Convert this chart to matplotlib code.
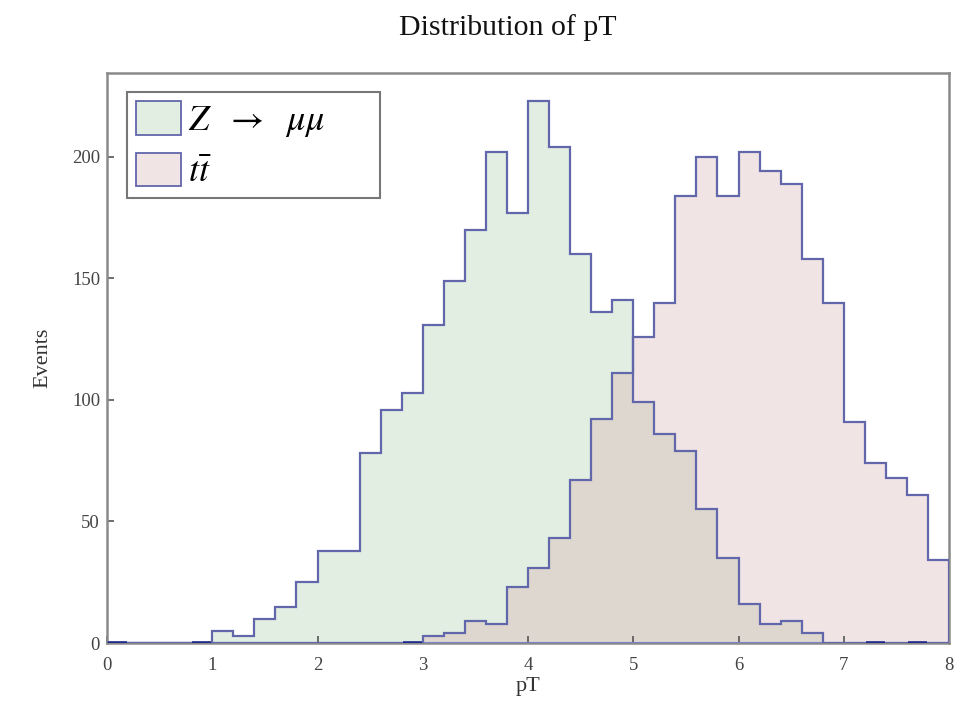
import numpy as np
import matplotlib
matplotlib.use("Agg")
import matplotlib.pyplot as plt
from matplotlib.patches import Patch

edges = np.round(np.arange(0, 8.0001, 0.2), 1)

z_mumu = [0, 0, 0, 0, 0, 5, 3, 10, 15, 25,
          38, 38, 78, 96, 103, 131, 149, 170, 202, 177,
          223, 204, 160, 136, 141, 99, 86, 79, 55, 35,
          16, 8, 9, 4, 0, 0, 0, 0, 0, 0]
ttbar = [0, 0, 0, 0, 0, 0, 0, 0, 0, 0,
         0, 0, 0, 0, 0, 3, 4, 9, 8, 23,
         31, 43, 67, 92, 111, 126, 140, 184, 200, 184,
         202, 194, 189, 158, 140, 91, 74, 68, 61, 34]
# bins with an empty (zero) entry drawn as a dark mark on the baseline
z_empty_bins = [0, 4, 36, 38]
tt_empty_bins = [14]

labels = [r"$Z\ \ \rightarrow\ \ \mu\mu$", r"$t\bar{t}$"]
title = "Distribution of pT"
xlabel = "pT"
ylabel = "Events"
xticks = [0, 1, 2, 3, 4, 5, 6, 7, 8]
yticks = [0, 50, 100, 150, 200]

green = "#e2eee2"
pink = "#f1e4e4"
overlap = "#ddd7cf"
edgec = "#6266aa"
dark = "#1f2a8c"
framec = "#8a8a8a"

plt.rcParams["mathtext.fontset"] = "stix"
serif = ["Liberation Serif", "DejaVu Serif"]

fig = plt.figure(figsize=(9.71, 7.03), dpi=100)
ax = fig.add_axes([107/971, 60/703, 842/971, 570/703])

z = np.array(z_mumu, float)
t = np.array(ttbar, float)
ax.stairs(z, edges, baseline=0, fill=True, color=green, lw=0)
ax.stairs(t, edges, baseline=0, fill=True, color=pink, lw=0)
ax.stairs(np.minimum(z, t), edges, baseline=0, fill=True, color=overlap, lw=0)
ax.hlines(0, edges[0], edges[-1], color="#7d82c8", lw=1.5, zorder=3)
ax.stairs(z, edges, baseline=0, color=edgec, lw=1.6, zorder=4)
ax.stairs(t, edges, baseline=0, color=edgec, lw=1.6, zorder=4)
for b in z_empty_bins + tt_empty_bins:
    ax.hlines(0, edges[b] + 0.01, edges[b + 1] - 0.01, color=dark, lw=2.6, zorder=5)

ax.set_xlim(0, 8)
ax.set_ylim(0, 234.5)
ax.set_xticks(xticks)
ax.set_yticks(yticks)
ax.set_xticklabels([str(v) for v in xticks], fontfamily=serif, fontsize=13.5, color="#444444")
ax.set_yticklabels([str(v) for v in yticks], fontfamily=serif, fontsize=13.5, color="#444444")
ax.tick_params(direction="in", length=5, width=1.2, color="#555555", top=False, right=False)
ax.tick_params(axis="x", pad=10)
ax.tick_params(axis="y", pad=5)
for s in ax.spines.values():
    s.set_color(framec)
    s.set_linewidth(1.8)

ax.set_xlabel(xlabel, fontfamily=serif, fontsize=16, color="#333333", labelpad=2)
ax.set_ylabel(ylabel, fontfamily=serif, fontsize=16, color="#333333", labelpad=14)
fig.text(508/971, 1 - 28/703, title, ha="center", va="center", fontfamily=serif, fontsize=21.5, color="#111111")

handles = [Patch(facecolor=green, edgecolor=edgec, lw=1.3),
           Patch(facecolor=pink, edgecolor=edgec, lw=1.3)]
leg = ax.legend(handles, labels, loc="upper left",
                bbox_to_anchor=(20/842, 1 - 19/570 - 103/570, 253/842, 103/570),
                mode="expand",
                fontsize=26, frameon=True, fancybox=False, framealpha=1,
                handlelength=1.25, handleheight=1.05, handletextpad=0.2,
                borderpad=0.25, labelspacing=0.38, borderaxespad=0)
leg.get_frame().set_edgecolor("#777777")
leg.get_frame().set_linewidth(1.5)

fig.savefig("out.png", dpi=100)
